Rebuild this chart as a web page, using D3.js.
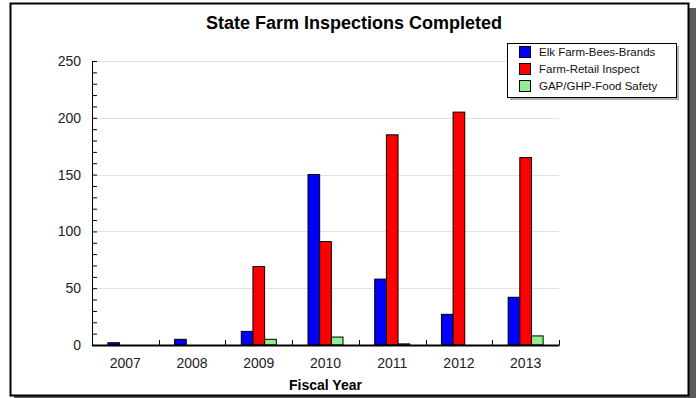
<!DOCTYPE html>
<html>
  <head>
    <style>
      body { margin: 0; background: #fff; }
      text { font-family: "Liberation Sans", Arial, sans-serif; }
    </style>
    <script src="https://d3js.org/d3.v7.min.js"></script>
  </head>
  <body>
    <svg class="chart"></svg>

    <script>
      const years = ['2007', '2008', '2009', '2010', '2011', '2012', '2013'];
      const seriesNames = ['Elk Farm-Bees-Brands', 'Farm-Retail Inspect', 'GAP/GHP-Food Safety'];
      const elkFarm = [2, 5, 12, 150, 58, 27, 42];
      const farmRetail = [0, 0, 69, 91, 185, 205, 165];
      const gapGhp = [0, 0, 5, 7, 1, 0, 8];
      const yTicks = [0, 50, 100, 150, 200, 250];
      const colors = ['#0000ff', '#ff0000', '#90ee90'];

      const width = 696;
      const height = 398;
      const plot = { left: 92, right: 559, top: 61, bottom: 345 };

      const svg = d3.select('svg')
        .attr('width', width)
        .attr('height', height);

      // frame with its drop shadow
      svg.append('rect').attr('x', 14).attr('y', 8).attr('width', 682).attr('height', 390).attr('fill', '#5a5a5a');
      svg.append('rect').attr('x', 10.5).attr('y', 3.5).attr('width', 678).attr('height', 392)
        .attr('fill', '#fff').attr('stroke', '#000').attr('stroke-width', 2);

      svg.append('text')
        .attr('x', 354).attr('y', 29)
        .attr('text-anchor', 'middle')
        .style('font-size', '18px').style('font-weight', 'bold')
        .text('State Farm Inspections Completed');

      const x0 = d3.scaleBand().domain(years).range([plot.left, plot.right]);
      const groupW = 35;
      const x1 = d3.scaleBand().domain(seriesNames)
        .range([(x0.bandwidth() - groupW) / 2, (x0.bandwidth() + groupW) / 2]);
      const y = d3.scaleLinear().domain([0, 250]).range([plot.bottom, plot.top]);

      // grid
      svg.append('g').selectAll('line')
        .data(yTicks.filter(d => d > 0))
        .join('line')
        .attr('x1', plot.left + 4).attr('x2', plot.right)
        .attr('y1', d => Math.round(y(d)) + 0.5).attr('y2', d => Math.round(y(d)) + 0.5)
        .attr('stroke', '#e2e2e2');

      // y axis: ticks inside every 10
      const yAxis = svg.append('g').attr('transform', `translate(${plot.left},0)`)
        .call(d3.axisRight(y).tickValues(d3.range(0, 251, 10)).tickSize(5).tickFormat(''));
      yAxis.select('.domain').attr('d', `M0.5,${plot.top}V${plot.bottom}`);
      yAxis.selectAll('line').attr('stroke', '#000');

      svg.append('g').selectAll('text')
        .data(yTicks)
        .join('text')
        .attr('x', 81).attr('y', d => y(d) + 5)
        .attr('text-anchor', 'end')
        .attr('fill', '#222')
        .style('font-size', '14px')
        .text(d => d);

      // bars
      const data = years.map((yr, i) => ({ year: yr, values: [elkFarm[i], farmRetail[i], gapGhp[i]] }));
      svg.append('g').selectAll('g')
        .data(data)
        .join('g')
        .attr('transform', d => `translate(${x0(d.year)},0)`)
        .selectAll('rect')
        .data(d => d.values.map((v, j) => ({ name: seriesNames[j], value: v, color: colors[j] })).filter(e => e.value > 0))
        .join('rect')
        .attr('x', d => x1(d.name))
        .attr('y', d => y(d.value))
        .attr('width', x1.bandwidth())
        .attr('height', d => y(0) - y(d.value))
        .attr('fill', d => d.color)
        .attr('stroke', '#000')
        .attr('stroke-width', 1);

      // x axis
      const xAxis = svg.append('g').attr('transform', `translate(0,${plot.bottom})`);
      xAxis.append('line')
        .attr('x1', plot.left).attr('x2', plot.right + 0.5)
        .attr('y1', 0.5).attr('y2', 0.5).attr('stroke', '#000').attr('stroke-width', 2);
      xAxis.selectAll('.tk')
        .data(years.slice(1).map(d => x0(d)).concat([plot.right]))
        .join('line')
        .attr('class', 'tk')
        .attr('x1', d => Math.round(d) + 0.5).attr('x2', d => Math.round(d) + 0.5)
        .attr('y1', 0).attr('y2', -5).attr('stroke', '#000');
      xAxis.selectAll('text')
        .data(years)
        .join('text')
        .attr('x', d => x0(d) + x0.bandwidth() / 2)
        .attr('y', 23)
        .attr('text-anchor', 'middle')
        .attr('fill', '#222')
        .style('font-size', '14px')
        .text(d => d);

      svg.append('text')
        .attr('x', (plot.left + plot.right) / 2).attr('y', 390)
        .attr('text-anchor', 'middle')
        .style('font-size', '14px').style('font-weight', 'bold')
        .text('Fiscal Year');

      // legend
      const lg = svg.append('g').attr('transform', 'translate(507,43)');
      lg.append('rect').attr('x', 3).attr('y', 3).attr('width', 169).attr('height', 54).attr('fill', '#b0b0b0');
      lg.append('rect').attr('x', 0.5).attr('y', 0.5).attr('width', 169).attr('height', 54)
        .attr('fill', '#fff').attr('stroke', '#000');
      const items = lg.selectAll('.item')
        .data(seriesNames)
        .join('g')
        .attr('class', 'item')
        .attr('transform', (d, i) => `translate(0,${9 + i * 17})`);
      items.append('rect')
        .attr('x', 12.5).attr('y', -5.5).attr('width', 11).attr('height', 11)
        .attr('fill', (d, i) => colors[i]).attr('stroke', '#000');
      items.append('text')
        .attr('x', 32).attr('y', 4)
        .style('font-size', '11.5px')
        .attr('fill', '#111')
        .text(d => d);
    </script>
  </body>
</html>
